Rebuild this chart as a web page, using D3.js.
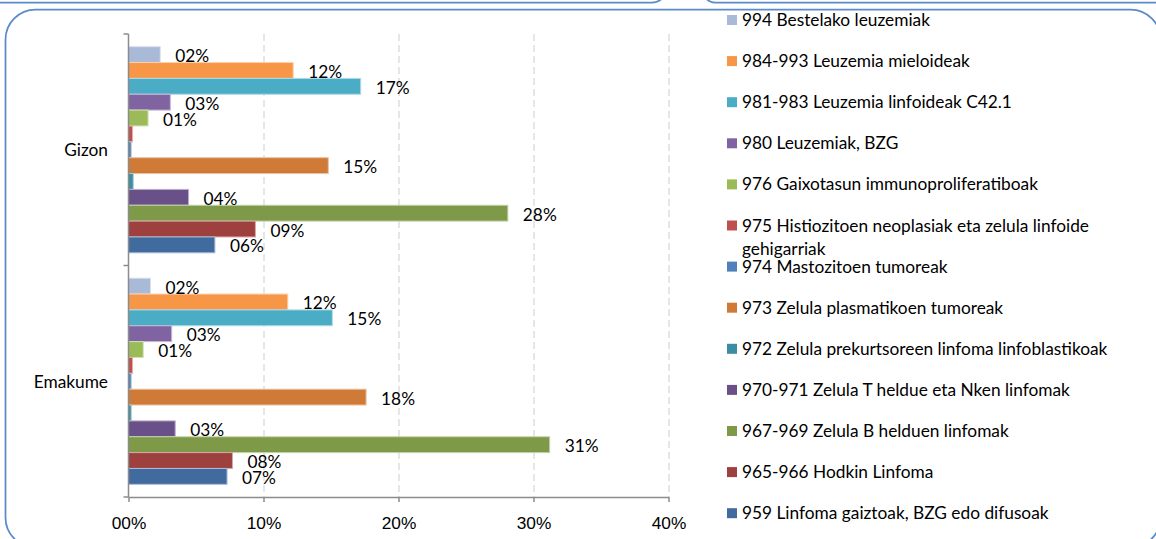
<!DOCTYPE html>
<html>
<head>
<meta charset="utf-8">
<script src="https://cdn.jsdelivr.net/npm/d3@7"></script>
<style>
  body { margin: 0; background: #fff; }
  svg { display: block; font-family: Lato, "Open Sans", sans-serif; }
</style>
</head>
<body>
<div id="chart"></div>
<script>
// Categories and series, top to bottom as drawn in each group
const categories = ["Gizon", "Emakume"];
const seriesNames = [
  "994 Bestelako leuzemiak",
  "984-993 Leuzemia mieloideak",
  "981-983 Leuzemia linfoideak C42.1",
  "980 Leuzemiak, BZG",
  "976 Gaixotasun immunoproliferatiboak",
  "975 Histiozitoen neoplasiak eta zelula linfoide gehigarriak",
  "974 Mastozitoen tumoreak",
  "973 Zelula plasmatikoen tumoreak",
  "972 Zelula prekurtsoreen linfoma linfoblastikoak",
  "970-971 Zelula T heldue eta Nken linfomak",
  "967-969 Zelula B helduen linfomak",
  "965-966 Hodkin Linfoma",
  "959 Linfoma gaiztoak, BZG edo difusoak",
];
const seriesColors = [
  "#a9b9d8", "#f79646", "#4bacc6", "#8064a2", "#9bbb59", "#c0504d", "#4f81bd",
  "#cf7a37", "#3a8da3", "#6a5089", "#7e9a48", "#9d403e", "#416a9e",
];
// percentages, same order as seriesNames
const gizonValues = [2.35, 12.2, 17.2, 3.1, 1.45, 0.3, 0.2, 14.8, 0.35, 4.45, 28.1, 9.4, 6.4];
const emakumeValues = [1.63, 11.8, 15.1, 3.2, 1.09, 0.3, 0.2, 17.6, 0.2, 3.46, 31.2, 7.7, 7.3];
const xTicks = [0, 10, 20, 30, 40];

class GroupedBarChart {
  constructor(_config) {
    this.config = {
      parentElement: _config.parentElement,
      width: 1156,
      height: 539,
      plot: { left: 128.5, right: 668.5, top: 34, bottom: 497 },
      legend: { x: 727, y: 20, step: 41.1, wrap: 405 },
      fontSize: 17.3,
    };
    this.initVis();
  }

  initVis() {
    const vis = this;
    const p = vis.config.plot;

    vis.svg = d3
      .select(vis.config.parentElement)
      .append("svg")
      .attr("width", vis.config.width)
      .attr("height", vis.config.height);

    // Frames: the bottoms of the two boxes above, and this chart's box
    const frame = vis.svg.append("g").attr("fill", "none").attr("stroke", "#5b8bc8").attr("stroke-width", 1.75);
    frame.append("rect").attr("x", -30).attr("y", -40).attr("width", 697).attr("height", 42.5).attr("rx", 15);
    frame.append("rect").attr("x", 703).attr("y", -40).attr("width", 500).attr("height", 42.5).attr("rx", 12);
    frame.append("rect").attr("x", 5.5).attr("y", 9.5).attr("width", 1155).attr("height", 538).attr("rx", 30);

    vis.x = d3.scaleLinear().domain([0, 40]).range([p.left, p.right]);
    vis.y0 = d3.scaleBand().domain(categories).range([p.top, p.bottom]);
    vis.y1 = d3
      .scaleBand()
      .domain(seriesNames)
      .range([0, vis.y0.bandwidth()])
      .paddingInner(0)
      .paddingOuter(0.8);

    vis.gridG = vis.svg.append("g").attr("transform", `translate(0,${p.top})`);
    vis.barsG = vis.svg.append("g");
    vis.labelsG = vis.svg.append("g");
    vis.xAxisG = vis.svg.append("g").attr("transform", `translate(0,${p.bottom})`);
    vis.yAxisG = vis.svg.append("g");
    vis.legendG = vis.svg.append("g");

    vis.updateVis();
  }

  updateVis() {
    const vis = this;
    const p = vis.config.plot;
    const fs = vis.config.fontSize;

    vis.data = categories.map((c, i) => ({
      category: c,
      values: [gizonValues, emakumeValues][i].map((v, j) => ({ key: seriesNames[j], value: v, color: seriesColors[j] })),
    }));

    // Dashed vertical gridlines
    vis.gridG
      .call(d3.axisBottom(vis.x).tickValues(xTicks.slice(1)).tickSize(p.bottom - p.top).tickFormat(""))
      .call((g) => g.select(".domain").remove())
      .selectAll("line")
      .attr("stroke", "#d9d9d9")
      .attr("stroke-width", 1.3)
      .attr("stroke-dasharray", "7,4");

    // Bars
    vis.barsG
      .selectAll("g.group")
      .data(vis.data)
      .join("g")
      .attr("class", "group")
      .attr("transform", (d) => `translate(0,${vis.y0(d.category)})`)
      .selectAll("rect")
      .data((d) => d.values)
      .join("rect")
      .attr("x", vis.x(0))
      .attr("y", (d) => vis.y1(d.key))
      .attr("width", (d) => vis.x(d.value) - vis.x(0))
      .attr("height", vis.y1.bandwidth())
      .attr("fill", (d) => d.color)
      .attr("stroke", (d) => d3.interpolateRgb(d.color, "#ffffff")(0.55))
      .attr("stroke-width", 1);

    // Data labels (the tiny bars carry none)
    vis.labelsG
      .selectAll("g.group")
      .data(vis.data)
      .join("g")
      .attr("class", "group")
      .attr("transform", (d) => `translate(0,${vis.y0(d.category)})`)
      .selectAll("text")
      .data((d) => d.values.filter((v) => v.value >= 0.5))
      .join("text")
      .attr("x", (d) => vis.x(d.value) + 15)
      .attr("y", (d) => vis.y1(d.key) + vis.y1.bandwidth() / 2 + 1)
      .attr("dominant-baseline", "central")
      .attr("font-size", fs)
      .attr("fill", "#000")
      .text((d) => d3.format("02.0f")(d.value) + "%");

    // X axis
    vis.xAxisG
      .call(
        d3
          .axisBottom(vis.x)
          .tickValues(xTicks)
          .tickSize(5)
          .tickSizeOuter(0)
          .tickPadding(15)
          .tickFormat((d) => d3.format("02d")(d) + "%")
      )
      .call((g) => g.selectAll("line, path").attr("stroke", "#8c8c8c").attr("stroke-width", 1.5))
      .selectAll("text")
      .attr("font-size", fs)
      .attr("font-family", null)
      .attr("fill", "#000");

    // Y axis: line, ticks at group boundaries, category names
    const bounds = categories.map((c) => vis.y0(c)).concat([p.bottom]);
    vis.yAxisG
      .append("line")
      .attr("x1", vis.x(0))
      .attr("x2", vis.x(0))
      .attr("y1", p.top)
      .attr("y2", p.bottom)
      .attr("stroke", "#8c8c8c")
      .attr("stroke-width", 1.5);
    vis.yAxisG
      .selectAll("line.tick")
      .data(bounds)
      .join("line")
      .attr("class", "tick")
      .attr("x1", vis.x(0) - 5)
      .attr("x2", vis.x(0))
      .attr("y1", (d) => d)
      .attr("y2", (d) => d)
      .attr("stroke", "#8c8c8c")
      .attr("stroke-width", 1.5);
    vis.yAxisG
      .selectAll("text")
      .data(categories)
      .join("text")
      .attr("x", 108)
      .attr("y", (d) => vis.y0(d) + vis.y0.bandwidth() / 2)
      .attr("dominant-baseline", "central")
      .attr("text-anchor", "end")
      .attr("font-size", fs)
      .attr("fill", "#000")
      .text((d) => d);

    // Legend
    const lg = vis.config.legend;
    const items = vis.legendG
      .selectAll("g.item")
      .data(seriesNames)
      .join("g")
      .attr("class", "item")
      .attr("transform", (d, i) => `translate(${lg.x},${lg.y + i * lg.step})`);
    items
      .append("rect")
      .attr("x", 0)
      .attr("y", -5)
      .attr("width", 10)
      .attr("height", 10)
      .attr("fill", (d, i) => seriesColors[i]);
    items.each(function (d) {
      const text = d3
        .select(this)
        .append("text")
        .attr("x", 15)
        .attr("font-size", fs)
        .attr("fill", "#000");
      // wrap long names onto extra lines
      const words = d.split(" ");
      let line = [];
      let lineNo = 0;
      let tspan = text.append("tspan").attr("x", 15).attr("y", 0).attr("dy", "0.35em");
      words.forEach((w) => {
        line.push(w);
        tspan.text(line.join(" "));
        if (tspan.node().getComputedTextLength() > lg.wrap && line.length > 1) {
          line.pop();
          tspan.text(line.join(" "));
          line = [w];
          lineNo += 1;
          tspan = text
            .append("tspan")
            .attr("x", 15)
            .attr("y", lineNo * 23)
            .attr("dy", "0.35em")
            .text(w);
        }
      });
    });
  }
}

const chart = new GroupedBarChart({ parentElement: "#chart" });
</script>
</body>
</html>
